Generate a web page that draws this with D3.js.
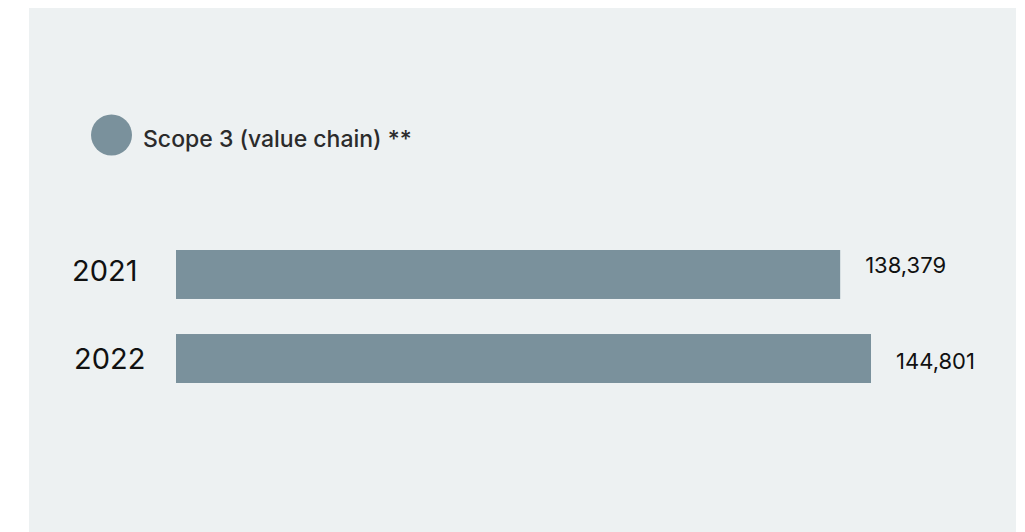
<!DOCTYPE html>
<html>
<head>
<meta charset="utf-8">
<script src="https://cdn.jsdelivr.net/npm/d3@7"></script>
<style>
  html, body { margin: 0; padding: 0; background: #ffffff; }
  svg { display: block; }
</style>
</head>
<body>
<svg id="chart" width="1025" height="532"></svg>
<script>
// Scope 3 emissions by year
const years = ["2021", "2022"];
const scope3Values = [138379, 144801];
const seriesName = "Scope 3 (value chain) **";

const W = 1025, H = 532;
const barColor = "#7a919c";
const panelColor = "#edf1f2";
const font = "Inter, 'Noto Sans', sans-serif";

const svg = d3.select("#chart");

// panel background
svg.append("rect")
  .attr("x", 29).attr("y", 8)
  .attr("width", 987).attr("height", H - 8)
  .attr("fill", panelColor);

// legend
const legend = svg.append("g");
legend.append("circle")
  .attr("cx", 111.5).attr("cy", 135).attr("r", 20.5)
  .attr("fill", barColor);
legend.append("text")
  .attr("x", 143).attr("y", 147)
  .attr("font-family", font)
  .attr("font-size", 23)
  .attr("font-weight", 500)
  .attr("fill", "#2b2b2b")
  .text(seriesName);

// scales
const x = d3.scaleLinear()
  .domain([0, d3.max(scope3Values)])
  .range([176, 871]);

const y = d3.scaleBand()
  .domain(years)
  .range([250, 383])
  .paddingInner(0.417)
  .paddingOuter(0);

const rows = years.map((yr, i) => ({ year: yr, value: scope3Values[i] }));

// per-row nudges for the text labels
const yearDy = [31, 35];
const valueDy = [23, 35];
const yearDx = [72, 74];

// bars
svg.append("g").selectAll("rect")
  .data(rows)
  .join("rect")
  .attr("x", x(0))
  .attr("y", d => y(d.year))
  .attr("width", d => x(d.value) - x(0))
  .attr("height", y.bandwidth())
  .attr("fill", barColor);

// year labels
svg.append("g").selectAll("text")
  .data(rows)
  .join("text")
  .attr("x", (d, i) => yearDx[i])
  .attr("y", (d, i) => y(d.year) + yearDy[i])
  .attr("font-family", font)
  .attr("font-size", 29)
  .attr("fill", "#111111")
  .text(d => d.year);

// value labels
const fmt = d3.format(",");
svg.append("g").selectAll("text")
  .data(rows)
  .join("text")
  .attr("x", d => x(d.value) + 25)
  .attr("y", (d, i) => y(d.year) + valueDy[i])
  .attr("font-family", font)
  .attr("font-size", 22)
  .attr("fill", "#111111")
  .text(d => fmt(d.value));
</script>
</body>
</html>
